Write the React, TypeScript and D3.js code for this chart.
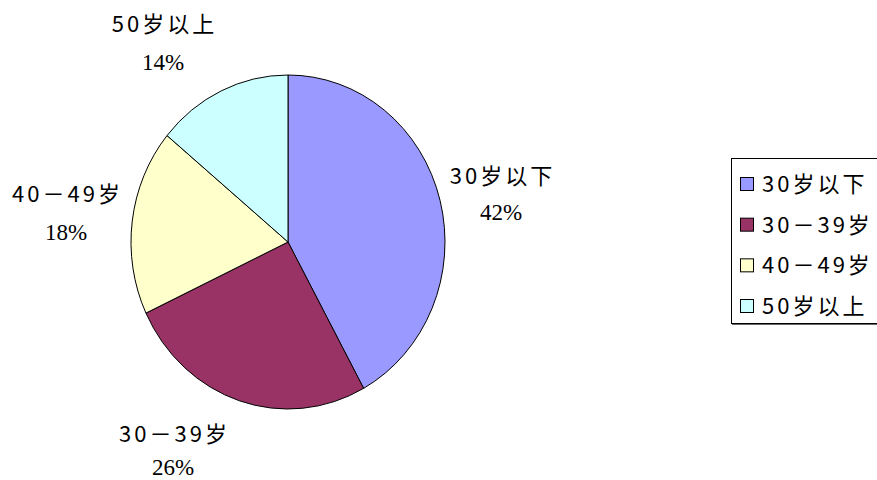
import React from "react";
import * as d3 from "d3";

const categories = ["30岁以下", "30－39岁", "40－49岁", "50岁以上"];
const values = [42, 26, 18, 14];
const percentLabels = ["42%", "26%", "18%", "14%"];
const colors = ["#9999FF", "#993366", "#FFFFCC", "#CCFFFF"];
// label anchors: x center, y center of category line, y center of percent line
const labelPos: [number, number, number][] = [
  [501, 175, 212],
  [173, 433, 467],
  [66, 193, 232],
  [163, 23, 62],
];

export default function App() {
  const W = 877;
  const H = 480;
  const cx = 288;
  const cy = 242;
  const rx = 157;
  const ry = 167;

  const pie = d3.pie<number>().sort(null).value((d) => d);
  const arcs = pie(values);
  const arc = d3.arc<d3.PieArcDatum<number>>().innerRadius(0).outerRadius(rx);

  const legendX = 731;
  const legendY = 158;
  const legendH = 165;
  const rowY = d3.scaleLinear().domain([0, 3]).range([184, 306]);

  const cjk = "'Noto Sans CJK SC', 'Noto Sans', sans-serif";
  const serif = "'Liberation Serif', 'DejaVu Serif', serif";

  return (
    <div style={{ position: "fixed", left: 0, top: 0, width: W, height: H, background: "#fff" }}>
      <svg width={W} height={H} style={{ display: "block" }}>
        <rect x={0} y={0} width={W} height={H} fill="#fff" />
        <g transform={`translate(${cx},${cy}) scale(1,${ry / rx})`}>
          {arcs.map((a, i) => (
            <path
              key={i}
              d={arc(a) || ""}
              fill={colors[i]}
              stroke="#000"
              strokeWidth={1}
              vectorEffect="non-scaling-stroke"
            />
          ))}
        </g>
        {categories.map((c, i) => (
          <g key={i}>
            <text
              x={labelPos[i][0] + 1.5}
              y={labelPos[i][1] + 8.5}
              textAnchor="middle"
              fontFamily={cjk}
              fontSize={22}
              letterSpacing={3}
              fill="#000"
            >
              {c}
            </text>
            <text
              x={labelPos[i][0]}
              y={labelPos[i][2] + 8}
              textAnchor="middle"
              fontFamily={serif}
              fontSize={23}
              fill="#000"
            >
              {percentLabels[i]}
            </text>
          </g>
        ))}
        <rect
          x={legendX + 0.5}
          y={legendY + 0.5}
          width={200}
          height={legendH}
          fill="#fff"
          stroke="#000"
          strokeWidth={1}
        />
        <line x1={legendX + 1} x2={W} y1={legendY + legendH + 1.5} y2={legendY + legendH + 1.5} stroke="#666" strokeWidth={1} />
        {categories.map((c, i) => (
          <g key={i} transform={`translate(0,${rowY(i)})`}>
            <rect x={740.5} y={-6.5} width={13} height={13} fill={colors[i]} stroke="#000" strokeWidth={1} />
            <text x={762} y={8} fontFamily={cjk} fontSize={22} letterSpacing={3} fill="#000">
              {c}
            </text>
          </g>
        ))}
      </svg>
    </div>
  );
}
